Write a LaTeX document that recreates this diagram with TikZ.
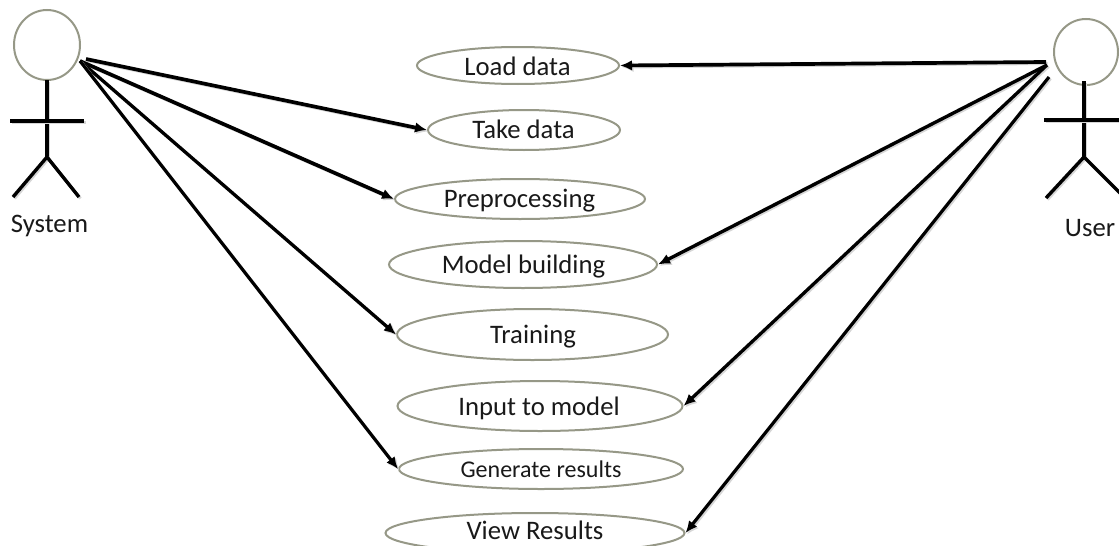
\documentclass[tikz,border=0pt]{standalone}
\usepackage{fontspec}
\setmainfont{Carlito}
\usetikzlibrary{shapes.geometric,arrows.meta}
\definecolor{ringc}{RGB}{150,152,135}
\newcommand\casetext[3]{\smash{\raisebox{-#2pt}{\makebox[0pt]{\hspace*{#1pt}\hspace*{#1pt}#3}}}}
\tikzset{
  softshadow/.style={preaction={draw=black!16,line width=3pt,transform canvas={xshift=1.5pt,yshift=-1.5pt}}},
  usecase/.style={ellipse,draw=ringc,line width=2pt,inner sep=0pt,font=\fontsize{26.7}{26.7}\selectfont,text=black!90},
  head/.style={ellipse,draw=ringc,line width=2pt,inner sep=0pt},
  limb/.style={softshadow,line width=3.4pt,black},
  link/.style={softshadow,line width=3.7pt,black,-{Latex[length=12pt,width=10.5pt]}},
  actorlabel/.style={font=\fontsize{26.7}{26.7}\selectfont,text=black!90,inner sep=0pt}
}
\begin{document}
\begin{tikzpicture}[x=1pt,y=-1pt]
\useasboundingbox (0,0) rectangle (1119,546);
\fill[white] (0,0) rectangle (1119,546);
\begin{scope}
\clip (0,0) rectangle (1119,546);
\node[usecase,minimum width=202pt,minimum height=37pt] (load) at (518,65.5) {\casetext{-0.5}{10}{Load data}};
\node[usecase,minimum width=192pt,minimum height=40pt] (take) at (524,130) {\casetext{-0.5}{8.5}{Take data}};
\node[usecase,minimum width=250pt,minimum height=40pt] (pre) at (520,199) {\casetext{-0.5}{8.5}{Preprocessing}};
\node[usecase,minimum width=268pt,minimum height=47pt] (build) at (523,264.5) {\casetext{0.5}{9}{Model building}};
\node[usecase,minimum width=271pt,minimum height=51pt] (train) at (532.5,334.5) {\casetext{0.5}{8.5}{Training}};
\node[usecase,minimum width=285pt,minimum height=50pt] (input) at (540,406) {\casetext{-1}{9.5}{Input to model}};
\node[usecase,minimum width=284pt,minimum height=40pt,font=\fontsize{24}{24}\selectfont] (gen) at (541,469) {\casetext{0}{8}{Generate results}};
\node[usecase,minimum width=299pt,minimum height=40pt] (view) at (535,533) {\casetext{0}{6.5}{View Results}};

\node[head,minimum width=66pt,minimum height=70pt] (syshead) at (47,45) {};
\node[head,minimum width=64pt,minimum height=66pt] (userhead) at (1086,52) {};
\coordinate (sysneck) at (47,80);
\coordinate (sysl) at (10,121);
\coordinate (sysr) at (84,121);
\coordinate (syship) at (47,157);
\coordinate (sysfa) at (13,197);
\coordinate (sysfb) at (79,197);
\draw[limb] (sysneck) -- (syship);
\draw[limb] (sysl) -- (sysr);
\draw[limb] (sysfa) -- (syship) -- (sysfb);
\coordinate (userneck) at (1084,81);
\coordinate (userl) at (1044,120);
\coordinate (userr) at (1125,120);
\coordinate (userhip) at (1084,157);
\coordinate (userfa) at (1046,198);
\coordinate (userfb) at (1125,198);
\draw[limb] (userneck) -- (userhip);
\draw[limb] (userl) -- (userr);
\draw[limb] (userfa) -- (userhip) -- (userfb);
\node[actorlabel] (syslabel) at (49.5,226) {System};
\node[actorlabel] (userlabel) at (1090,228) {User};

\coordinate (s1) at (86,59);
\coordinate (s2) at (80,61);
\coordinate (u1) at (1046,62);
\coordinate (u2) at (1047,65);
\coordinate (u3) at (1049,77);
\draw[link] (s1) -- (take.west);
\draw[link] (s2) -- (pre.west);
\draw[link,line width=3.3pt] (s2) -- (train.west);
\draw[link,line width=3.2pt] (s2) -- (gen.west);
\draw[link] (u1) -- (load.east);
\draw[link,line width=3.4pt] (u2) -- (build.east);
\draw[link,line width=3.3pt] (u2) -- (input.east);
\draw[link,line width=3.2pt] (u3) -- (view.east);
\end{scope}
\end{tikzpicture}
\end{document}
